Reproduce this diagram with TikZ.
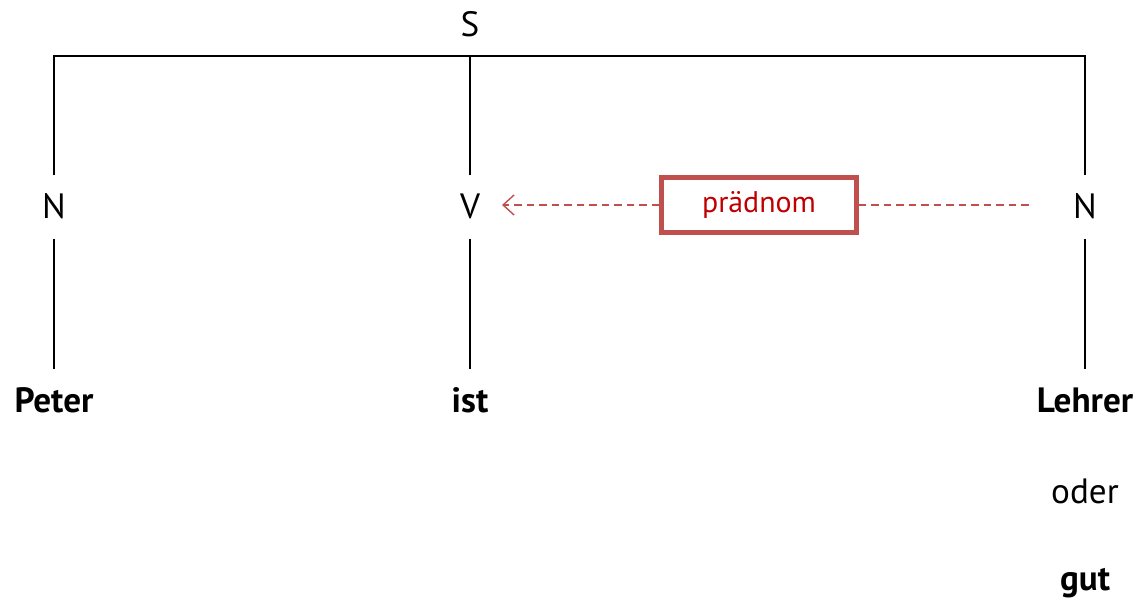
\documentclass[tikz,border=0pt]{standalone}
\usepackage{fontspec}
\setmainfont{PT Sans}
\usetikzlibrary{arrows.meta}
\definecolor{boxred}{RGB}{192,80,77}
\definecolor{textred}{RGB}{192,0,0}
\tikzset{
    cat/.style={font=\fontsize{20}{24}\selectfont, text height=0.47cm, text depth=0pt, inner xsep=2pt, inner ysep=0.38cm},
    word/.style={cat, font=\fontsize{20}{24}\selectfont\bfseries},
    relbox/.style={draw=boxred, line width=2.3pt, text=textred, font=\fontsize{17}{20}\selectfont, minimum width=3.9cm, minimum height=1.1cm},
    rel/.style={boxred, line width=0.8pt, dash pattern=on 0.15cm off 0.1cm}
}
\begin{document}
\begin{tikzpicture}[line width=1.1pt]
    \useasboundingbox (0,0) rectangle (22.72,11.98);
    \node[cat] (s) at (9.4,11.48) {S};
    \coordinate (bar) at (9.4,10.86);
    \node[cat] (n1) at (1.08,7.84) {N};
    \node[cat] (v) at (9.4,7.84) {V};
    \node[cat] (n2) at (21.7,7.84) {N};
    \node[word] (peter) at (1.08,3.97) {Peter};
    \node[word] (ist) at (9.4,3.97) {ist};
    \node[word] (lehrer) at (21.7,3.97) {Lehrer};
    \node[cat, font=\fontsize{20}{24}\selectfont] (oder) at (21.7,2.15) {oder};
    \node[word] (gut) at (21.7,0.4) {gut};
    % tree
    \draw (n1.north) |- (bar) -| (n2.north);
    \draw (v.north) -- (bar);
    \draw (n1) -- (peter);
    \draw (v) -- (ist);
    \draw (n2) -- (lehrer);
    % relation
    \node[relbox] (pn) at (15.18,7.88) {prädnom};
    \coordinate (tip) at (10.04,7.88);
    \coordinate (tail) at (20.64,7.88);
    \draw[rel, -{Straight Barb[length=0.22cm, width=0.4cm]}] (pn) -- (tip);
    \draw[rel] (pn) -- (tail);
\end{tikzpicture}
\end{document}
